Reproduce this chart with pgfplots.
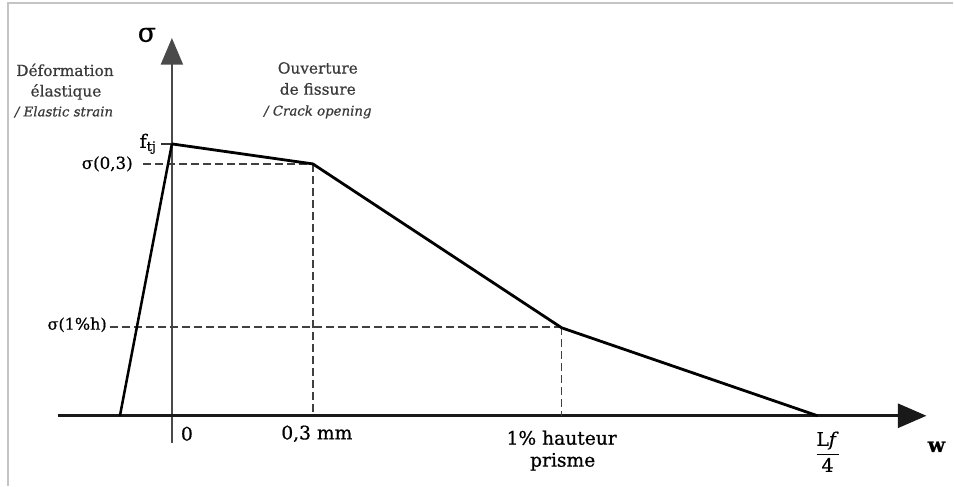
\documentclass[border=0pt]{standalone}
\usepackage{amsmath}
\usepackage{fontspec}
\setmainfont{DejaVu Serif}[FakeBold=0.7]
\usepackage{pgfplots}
\pgfplotsset{compat=1.18}
\usetikzlibrary{arrows.meta}
\definecolor{framegray}{HTML}{C4C4C4}
\definecolor{txtgray}{HTML}{3A3A3A}
\definecolor{axgray}{HTML}{4A4A4A}

% coordinates: 1 unit = 1 px of the reference, origin at the axes' crossing
\pgfplotstableread{
x y
-52 0
0 272
}\elastic
\pgfplotstableread{
x y
0 272
141 252
390 88
646 0
}\opening

\begin{document}
\begin{tikzpicture}
\begin{axis}[
  x=0.75pt, y=0.75pt,
  xmin=-172, xmax=782, ymin=-70, ymax=416,
  axis lines=none, ticks=none, clip=false,
]
% frame of the screenshot
\draw[framegray, line width=0.8pt] (axis cs:-164,-70) -- (axis cs:-164,413) -- (axis cs:782,413);

% axes
\draw[axgray, line width=1.6pt, -{Triangle[length=20pt,width=16.5pt]}] (axis cs:0,-27) -- (axis cs:0,378);
\draw[black!90, line width=2.3pt, -{Triangle[length=21.5pt,width=18pt]}] (axis cs:-114,0) -- (axis cs:755,0);

% dashed guides
\addplot[black!75, line width=1.2pt, dash pattern=on 6pt off 3pt] coordinates {(-29,252) (141,252)};
\addplot[black!75, line width=1.2pt, dash pattern=on 6pt off 3pt] coordinates {(141,252) (141,0)};
\addplot[black!75, line width=1.2pt, dash pattern=on 6pt off 3pt] coordinates {(-62,89) (390,89)};
\addplot[black!75, line width=1.2pt, dash pattern=on 6pt off 3pt] coordinates {(390,89) (390,0)};
\addplot[black!80, line width=1.1pt] coordinates {(-11,272) (0,272)};

% law
\addplot[black, line width=1.9pt] table {\elastic};
\addplot[black, line width=2.1pt, line join=round] table {\opening};

% labels
\node[font=\fontsize{20}{22}\selectfont] at (axis cs:-25,381) {σ};
\node[anchor=base east, inner sep=0pt, font=\fontsize{14}{16}\selectfont] at (axis cs:-15,268) {f$_{\text{tj}}$};
\node[anchor=east, inner sep=0pt, font=\fontsize{12.5}{14}\selectfont] at (axis cs:-39,252) {σ(0,3)};
\node[anchor=east, inner sep=0pt, font=\fontsize{12}{14}\selectfont] at (axis cs:-65,91) {σ(1\%h)};

\node[font=\fontsize{14}{16}\selectfont] at (axis cs:15,-18) {0};
\node[font=\fontsize{14}{16}\selectfont] at (axis cs:145,-18) {0,3 mm};
\node[font=\fontsize{14}{16}\selectfont] at (axis cs:390,-22) {1\% hauteur};
\node[font=\fontsize{14}{16}\selectfont] at (axis cs:391,-46) {prisme};
\node[font=\fontsize{14}{16}\selectfont] at (axis cs:656,-36) {$\dfrac{\text{L\textit{f}}}{\text{4}}$};
\node[font=\fontsize{15}{17}\selectfont\bfseries] at (axis cs:765,-31) {w};

\node[txtgray, font=\fontsize{11.5}{13}\selectfont] at (axis cs:-107,346) {Déformation};
\node[txtgray, font=\fontsize{11.5}{13}\selectfont] at (axis cs:-106,324) {élastique};
\node[txtgray, font=\fontsize{10}{12}\selectfont\itshape] at (axis cs:-108,304) {/ Elastic strain};
\node[txtgray, font=\fontsize{11.5}{13}\selectfont] at (axis cs:146,348) {Ouverture};
\node[txtgray, font=\fontsize{11.5}{13}\selectfont] at (axis cs:146,327) {de fissure};
\node[txtgray, font=\fontsize{10}{12}\selectfont\itshape] at (axis cs:146,304) {/ Crack opening};

\path (axis cs:-172,-70) rectangle (axis cs:782,416);
\end{axis}
\end{tikzpicture}
\end{document}
